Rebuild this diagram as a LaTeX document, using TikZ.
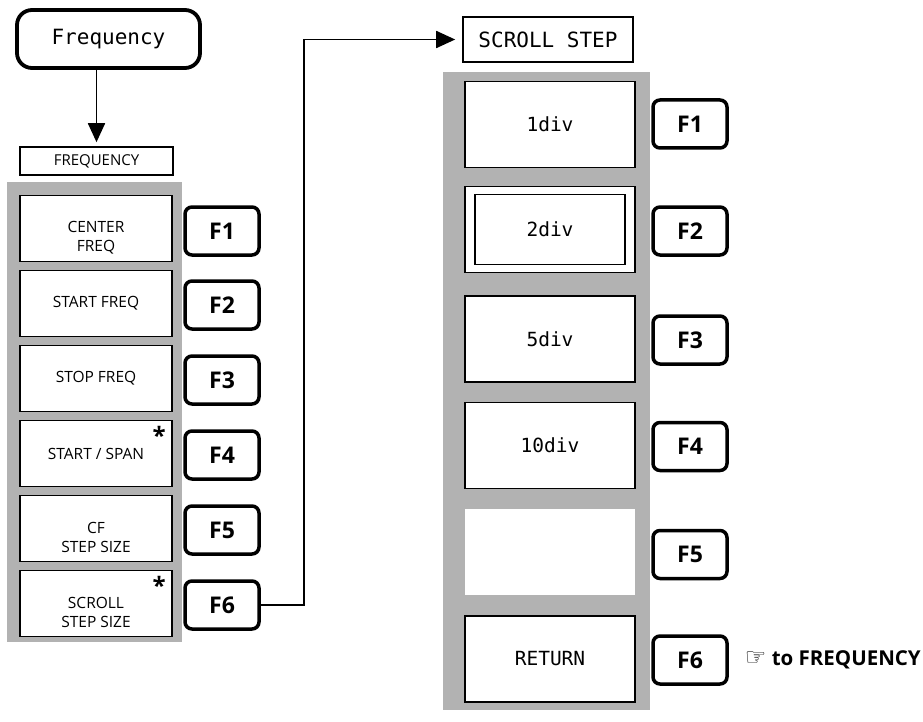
\documentclass[tikz,border=0pt]{standalone}
\usepackage{fontspec}
\setmainfont{Open Sans}
\setmonofont{DejaVu Sans Mono}
\newfontfamily\handfont{DejaVu Sans}
\usetikzlibrary{arrows.meta,positioning}
\definecolor{MenuGray}{gray}{0.70}
\newcommand{\dropline}{\rule{0pt}{30pt}}

\begin{document}
\begin{tikzpicture}[x=1pt, y=-1pt, every node/.style={inner sep=0pt},
    panel/.style={fill=MenuGray},
    softkey/.style={draw,line width=1.8pt,fill=white,minimum width=152pt,
      minimum height=66pt,align=center,font=\fontsize{15.5}{19}\selectfont},
    stepkey/.style={draw,line width=1.8pt,fill=white,minimum width=170pt,
      minimum height=86pt,font=\ttfamily\fontsize{19.5}{22}\selectfont},
    fkey/.style={draw,rounded corners=7pt,line width=3.5pt,fill=white,
      minimum width=74pt,minimum height=48pt,font=\bfseries\fontsize{23}{26}\selectfont},
    menutitle/.style={draw,line width=1.6pt,fill=white},
    star/.style={anchor=north east,font=\bfseries\fontsize{24}{26}\selectfont},
    link/.style={line width=1.8pt,-{Triangle[length=19pt,width=17pt]}}]
  \useasboundingbox (0,0) rectangle (923,722);

  % panel key
  \node[draw,rounded corners=15pt,line width=3.8pt,minimum width=183pt,
    minimum height=58pt,font=\ttfamily\fontsize{21}{24}\selectfont] (freq)
    at (108.5,39) {Frequency};
  \node[menutitle,minimum width=153pt,minimum height=28pt,
    font=\fontsize{15}{18}\selectfont] (fqtitle) at (96.5,161) {FREQUENCY};
  \draw[link,shorten >=4pt] (freq.south -| fqtitle.north) -- (fqtitle.north);

  % FREQUENCY menu
  \node[panel,minimum width=175pt,minimum height=460pt] (lpanel) at (94.5,412) {};
  \node[softkey] (cfreq) at (96,228.5) {\dropline CENTER\\FREQ};
  \node[softkey] (sfreq) at (96,303.5) {START FREQ};
  \node[softkey] (pfreq) at (96,378.5) {STOP FREQ};
  \node[softkey] (sspan) at (96,453.5) {START / SPAN};
  \node[softkey] (cfstep) at (96,528.5) {\dropline CF\\STEP SIZE};
  \node[softkey] (scstep) at (96,603.5) {\dropline SCROLL\\STEP SIZE};
  \node[star] at ([xshift=-7pt,yshift=-6pt]sspan.north east) {*};
  \node[star] at ([xshift=-7pt,yshift=-6pt]scstep.north east) {*};

  \node[fkey] (lf1) at (222,231) {F1};
  \node[fkey] (lf2) at (222,305) {F2};
  \node[fkey] (lf3) at (222,380) {F3};
  \node[fkey] (lf4) at (222,455) {F4};
  \node[fkey] (lf5) at (222,530) {F5};
  \node[fkey] (lf6) at (222,605) {F6};

  % SCROLL STEP menu
  \node[menutitle,minimum width=170pt,minimum height=45pt,
    font=\ttfamily\fontsize{21}{24}\selectfont] (sstitle) at (548,39.5) {SCROLL STEP};
  \draw[link,shorten >=7pt] (lf6.east) -- ++(43,0) |- (sstitle.west);

  \node[panel,minimum width=207pt,minimum height=638pt] (rpanel) at (546.5,391) {};
  \node[stepkey] (d1) at (550,124.5) {1div};
  \node[stepkey] (d2) at (550,229.5) {};
  \node[draw,line width=1.8pt,minimum width=150pt,minimum height=70pt,
    font=\ttfamily\fontsize{19.5}{22}\selectfont] (d2in) at (d2.center) {2div};
  \node[stepkey] (d5) at (550,339) {5div};
  \node[stepkey] (d10) at (550,445.5) {10div};
  \node[stepkey,draw=none] (blank) at (550,552) {};
  \node[stepkey] (ret) at (550,659) {RETURN};

  \node[fkey] (rf1) at (690,124) {F1};
  \node[fkey] (rf2) at (690,231) {F2};
  \node[fkey] (rf3) at (690,340) {F3};
  \node[fkey] (rf4) at (690,446.5) {F4};
  \node[fkey] (rf5) at (690,554.5) {F5};
  \node[fkey] (rf6) at (690,660) {F6};
  \node[anchor=west,font=\bfseries\fontsize{20.5}{24}\selectfont] (retnote)
    at ([xshift=16pt]rf6.east) {{\handfont\mdseries\fontsize{24}{24}\selectfont ☞}~to FREQUENCY};
\end{tikzpicture}
\end{document}
